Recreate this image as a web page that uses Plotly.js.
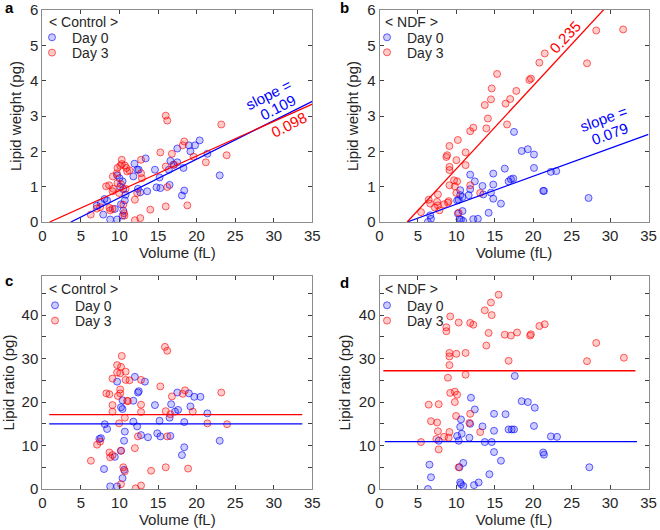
<!DOCTYPE html>
<html>
<head>
<meta charset="utf-8">
<script src="https://cdn.plot.ly/plotly-3.0.1.min.js"></script>
<style>html,body{margin:0;padding:0;background:#fff}#chart{width:660px;height:530px}</style>
</head>
<body>
<div id="chart"></div>
<script>
// ---------- Panel a: Control, lipid weight vs volume ----------
const aDay0X = [7.06,7.6,8.06,8.4,7.9,8.8,9.4,9.7,9.7,10.0,10.1,10.4,10.2,10.4,10.5,10.7,10.8,10.5,11.8,11.95,12.3,12.5,12.4,12.7,13.4,13.6,14.6,14.8,15.2,15.3,16.4,16.6,16.5,17.0,17.5,17.5,18.3,18.1,18.4,19.0,19.2,19.8,20.4,21.4,23.0];
const aDay0Y = [0.46,0.54,0.65,0.61,0.21,0.07,0.37,0.07,1.32,1.24,1.0,1.15,0.5,0.18,0.32,0.61,0.77,0.93,1.29,1.65,1.48,1.48,0.94,0.84,1.8,0.87,1.48,0.98,1.26,0.96,1.48,1.73,1.05,1.62,2.08,1.69,1.53,0.75,0.89,2.17,2.0,2.17,2.31,1.93,1.32];
const aDay3X = [6.28,7.06,7.5,8.27,8.66,8.7,8.8,9.1,9.1,9.2,9.14,9.66,9.74,9.74,9.96,10.1,10.3,10.3,10.2,10.5,10.7,10.9,11.0,11.3,10.8,10.6,10.65,12.0,12.0,12.7,12.8,12.8,12.9,12.3,14.0,15.3,16.0,16.2,16.0,16.0,16.2,16.8,17.1,18.2,18.4,18.8,19.6,21.2,23.2,23.9];
const aDay3Y = [0.21,0.38,0.42,1.01,1.04,0.4,0.33,0.37,0.87,0.94,1.29,1.38,1.53,1.1,0.82,1.59,1.64,1.76,1.07,0.49,1.6,1.53,1.43,1.46,0.94,0.25,0.18,0.63,0.05,0.11,1.76,1.38,1.24,0.82,0.35,1.97,3.01,2.87,0.44,1.57,0.99,1.93,1.62,2.17,2.28,0.47,1.85,1.69,2.76,1.89];

// ---------- Panel b: NDF, lipid weight vs volume ----------
const bDay0X = [6.3,6.6,6.7,10.1,10.3,10.5,10.5,10.8,10.4,10.6,10.9,10.8,10.2,11.6,11.8,11.8,12.4,12.2,12.8,13.4,13.5,14.2,14.5,14.8,14.8,14.8,15.8,16.3,16.8,17.1,17.4,17.5,18.5,19.3,20.1,20.1,21.3,21.4,22.3,23.0,27.2];
const bDay0Y = [0.0,0.19,0.09,0.61,0.63,0.9,0.76,0.71,0.08,0.07,0.03,0.31,0.24,0.76,1.34,0.93,1.15,0.08,0.09,1.02,0.78,0.26,0.83,1.37,1.06,0.66,0.52,1.51,1.15,1.21,1.23,2.55,2.01,2.06,1.91,1.53,0.88,0.88,1.42,1.44,0.68];
const bDay3X = [5.4,6.4,6.6,7.2,7.6,7.5,7.6,7.8,8.4,8.9,9.0,8.7,8.8,9.1,9.1,9.1,9.1,9.7,9.8,10.0,10.1,10.2,10.0,10.3,11.2,11.2,11.8,12.2,11.8,13.1,13.7,13.9,14.1,14.5,14.6,15.3,16.4,16.6,17.0,17.8,19.5,19.7,20.8,21.5,27.0,28.2,31.7];
const bDay3Y = [0.28,0.63,0.52,0.41,0.78,0.57,0.47,0.33,0.5,0.55,0.59,1.84,1.89,2.15,1.56,1.47,1.04,1.18,1.01,1.75,1.15,2.32,0.82,0.26,1.97,1.61,2.57,2.67,1.04,0.82,3.31,2.65,2.93,3.47,3.78,4.19,3.35,2.76,3.48,3.71,4.02,4.06,4.51,4.77,4.49,5.42,5.45];

// ---------- Panel c: Control, lipid ratio vs volume ----------
const cDay0X = [8.1,8.4,7.6,7.4,8.0,8.8,9.7,9.4,9.7,10.2,10.4,10.4,10.2,10.7,10.6,10.6,10.4,12.0,12.4,12.5,11.8,11.8,12.3,12.8,13.3,13.7,14.6,14.9,15.2,15.3,16.5,16.6,16.7,17.2,17.5,17.6,18.1,18.4,18.4,19.0,19.2,19.7,20.5,21.4,23.0];
const cDay0Y = [14.9,13.8,11.7,11.5,4.6,0.6,0.6,7.4,24.7,18.8,20.4,18.4,8.8,13.2,11.1,4.4,2.5,25.8,22.2,22.5,20.3,15.5,14.4,12.4,24.7,11.9,19.3,12.8,15.7,12.1,16.4,12.2,19.5,17.8,22.2,18.2,7.8,9.6,15.4,22.0,19.0,21.2,21.2,17.4,11.1];
const cDay3X = [6.3,7.1,7.5,8.3,8.7,8.7,8.8,9.1,9.1,9.1,9.1,9.7,9.7,10.2,10.3,10.1,10.1,10.1,9.8,9.96,10.2,10.2,10.5,10.7,10.7,10.8,10.8,11.3,11.0,11.1,12.0,12.1,12.4,12.8,12.8,12.8,12.8,14.1,15.3,15.9,16.2,16.0,16.0,16.2,16.6,16.8,18.2,18.5,18.9,19.5,21.4,23.2,23.95];
const cDay3Y = [6.5,10.2,10.9,22.0,21.8,8.4,7.3,7.8,25.4,19.3,17.8,28.5,26.8,28.1,30.6,26.6,22.9,22.0,21.4,15.1,8.8,1.1,5.0,4.1,16.4,27.0,25.1,25.0,20.3,20.2,9.4,0.15,12.1,25.1,19.4,17.7,0.8,4.2,23.6,32.7,31.8,17.9,5.0,12.1,17.2,21.3,21.9,22.7,4.7,17.8,15.1,22.2,14.9];

// ---------- Panel d: NDF, lipid ratio vs volume ----------
const dDay0X = [6.3,6.5,6.7,7.7,10.1,10.3,10.4,10.5,10.6,10.7,10.5,10.6,10.9,10.9,11.7,11.8,11.9,12.4,12.3,12.9,13.4,13.7,14.3,14.6,14.9,14.9,14.9,15.8,16.4,16.8,17.2,17.5,17.6,18.5,19.3,20.2,20.1,21.3,21.4,22.3,23.1,27.3];
const dDay0Y = [0.0,5.6,2.7,11.1,12.2,11.1,5.0,14.3,16.0,12.7,1.5,1.1,0.7,6.0,11.8,15.0,21.0,18.3,0.9,1.5,14.4,10.8,3.4,10.8,17.3,13.4,8.5,6.5,17.2,13.7,13.7,13.7,26.0,20.2,20.0,18.7,14.5,8.4,7.9,12.1,12.0,5.0];
const dDay3X = [5.4,6.4,6.7,7.5,7.6,7.7,7.4,7.7,8.4,8.7,8.7,8.9,9.1,9.1,9.1,9.2,9.1,9.0,9.2,9.8,9.8,9.96,10.1,10.0,10.3,10.3,11.2,11.2,11.8,11.7,11.8,12.2,13.1,13.7,13.9,14.2,14.5,14.6,15.5,16.3,16.8,17.1,17.9,19.6,19.7,20.8,21.5,27.0,28.2,31.8];
const dDay3Y = [10.8,19.4,15.6,15.3,13.3,19.5,11.5,9.1,12.0,37.2,36.3,25.6,30.5,31.3,28.5,39.7,13.1,11.8,22.1,22.4,20.0,16.8,21.7,31.1,38.3,5.0,31.3,26.3,17.3,15.2,38.2,37.8,13.1,41.1,33.0,35.9,42.9,40.0,44.7,35.5,29.5,35.3,36.0,35.3,35.6,37.5,37.9,29.4,33.6,30.2];

// ---------- Fit lines (slope, x-intercept, x-extent) ----------
const aFitSlope = [0.109, 0.098];     // Day 0, Day 3
const aFitX0 = [3.7, 0.95];
const aFitXEnd = [35, 35];
const bFitSlope = [0.079, 0.235];
const bFitX0 = [3.6, 3.6];
const bFitXEnd = [35, 35];
// ---------- Mean lines (level, x-extent) ----------
const cMean = [15.0, 17.1];
const cMeanXStart = [0.9, 0.9];
const cMeanXEnd = [33.7, 33.7];
const dMean = [10.9, 27.2];
const dMeanXStart = [0.7, 0.5];
const dMeanXEnd = [33.5, 33.3];

const panelLetters = ['a','b','c','d'];
const groupNames = ['&lt; Control &gt;','&lt; NDF &gt;','&lt; Control &gt;','&lt; NDF &gt;'];
const seriesNames = ['Day 0','Day 3'];
const slopeLabelsA = ['slope =','0.109','0.098'];
const slopeLabelsB = ['0.235','slope =','0.079'];

const BLUE = '#0000ff', RED = '#ff0000';
const FONT = 'Liberation Sans, Arial, Helvetica, sans-serif';
const TXT = '#262626';

function mk(x, y, color, fill, xa, ya, legend, name) {
  return {type:'scatter', mode:'markers', x:x, y:y, xaxis:xa, yaxis:ya, name:name,
    legend:legend, showlegend:true,
    marker:{symbol:'circle', size:7, color:fill, line:{color:color, width:1}},
    hoverinfo:'x+y'};
}
function ln(x, y, color, xa, ya) {
  return {type:'scatter', mode:'lines', x:x, y:y, xaxis:xa, yaxis:ya, showlegend:false,
    line:{color:color, width:1.3}, hoverinfo:'skip'};
}
function fitLine(slope, x0, xEnd) {
  return {x:[x0, xEnd], y:[0, slope*(xEnd - x0)]};
}

const bFill = 'rgba(0,0,255,0.2)', bEdge = 'rgba(0,0,255,0.6)';
const rFill = 'rgba(255,0,0,0.2)', rEdge = 'rgba(255,0,0,0.6)';

const traces = [];
// a
traces.push(mk(aDay0X,aDay0Y,bEdge,bFill,'x','y','legend',seriesNames[0]));
traces.push(mk(aDay3X,aDay3Y,rEdge,rFill,'x','y','legend2',seriesNames[1]));
[0,1].forEach(i=>{const f=fitLine(aFitSlope[i],aFitX0[i],aFitXEnd[i]); traces.push(ln(f.x,f.y,i?RED:BLUE,'x','y'));});
// b
traces.push(mk(bDay0X,bDay0Y,bEdge,bFill,'x2','y2','legend3',seriesNames[0]));
traces.push(mk(bDay3X,bDay3Y,rEdge,rFill,'x2','y2','legend4',seriesNames[1]));
[0,1].forEach(i=>{const f=fitLine(bFitSlope[i],bFitX0[i],bFitXEnd[i]); traces.push(ln(f.x,f.y,i?RED:BLUE,'x2','y2'));});
// c
traces.push(mk(cDay0X,cDay0Y,bEdge,bFill,'x3','y3','legend5',seriesNames[0]));
traces.push(mk(cDay3X,cDay3Y,rEdge,rFill,'x3','y3','legend6',seriesNames[1]));
[0,1].forEach(i=>traces.push(ln([cMeanXStart[i],cMeanXEnd[i]],[cMean[i],cMean[i]],i?RED:BLUE,'x3','y3')));
// d
traces.push(mk(dDay0X,dDay0Y,bEdge,bFill,'x4','y4','legend7',seriesNames[0]));
traces.push(mk(dDay3X,dDay3Y,rEdge,rFill,'x4','y4','legend8',seriesNames[1]));
[0,1].forEach(i=>traces.push(ln([dMeanXStart[i],dMeanXEnd[i]],[dMean[i],dMean[i]],i?RED:BLUE,'x4','y4')));

const W = 660, H = 530;
const px = v => v / W, py = v => 1 - v / H;

function xax(dom, anchor) {
  return {domain:dom, anchor:anchor, range:[0,35], tick0:0, dtick:5, ticks:'inside', ticklen:4,
    tickcolor:'#404040', showline:true, linecolor:'#8c8c8c', linewidth:1, mirror:'ticks',
    showgrid:false, zeroline:false, automargin:false,
    tickfont:{family:FONT, size:15, color:TXT},
    title:{text:'Volume (fL)', font:{family:FONT, size:15, color:TXT}, standoff:0}};
}
function yax(dom, anchor, rng, dt, minor, title) {
  const o = {domain:dom, anchor:anchor, range:rng, tick0:0, dtick:dt, ticks:'inside', ticklen:4,
    tickcolor:'#404040', showline:true, linecolor:'#8c8c8c', linewidth:1, mirror:'ticks',
    showgrid:false, zeroline:false, automargin:false,
    tickfont:{family:FONT, size:15, color:TXT},
    title:{text:title, font:{family:FONT, size:15, color:TXT}, standoff:4}};
  if (minor) o.minor = {dtick:minor, ticks:'inside', ticklen:4, tickcolor:'#404040', showgrid:false};
  return o;
}
const colA = [px(42.3), px(312.3)], colB = [px(379.5), px(648.5)];
const rowTop = [py(222), py(10)], rowBot = [py(489), py(276)];

// one legend per entry so each entry sits where the reference puts it
// (xp = left of legend box, yp = vertical centre of the entry)
function leg(xp, yp) {
  return {x:px(xp), y:py(yp), xanchor:'left', yanchor:'middle', bgcolor:'rgba(0,0,0,0)',
    borderwidth:0, font:{family:FONT, size:14, color:TXT}, itemclick:false};
}

const ann = [];
function paperText(t, x, y, opts) {
  ann.push(Object.assign({text:t, xref:'paper', yref:'paper', x:px(x), y:py(y), showarrow:false,
    xanchor:'left', yanchor:'middle', font:{family:FONT, size:14, color:TXT}}, opts||{}));
}
// panel letters
paperText('<b>'+panelLetters[0]+'</b>', 3, 8, {font:{family:FONT, size:15, color:'#000'}});
paperText('<b>'+panelLetters[1]+'</b>', 338, 8, {font:{family:FONT, size:15, color:'#000'}});
paperText('<b>'+panelLetters[2]+'</b>', 3, 280, {font:{family:FONT, size:15, color:'#000'}});
paperText('<b>'+panelLetters[3]+'</b>', 338, 282, {font:{family:FONT, size:15, color:'#000'}});
// group titles
paperText(groupNames[0], 47, 22);
paperText(groupNames[1], 383, 22);
paperText(groupNames[2], 47, 289);
paperText(groupNames[3], 383, 289);
// slope labels
function dataText(t, x, y, xa, ya, color, angle) {
  ann.push({text:t, xref:xa, yref:ya, x:x, y:y, showarrow:false, textangle:angle,
    font:{family:FONT, size:15, color:color}});
}
dataText(slopeLabelsA[0], 29.3, 3.62, 'x', 'y', BLUE, -27);
dataText(slopeLabelsA[1], 30.5, 3.25, 'x', 'y', BLUE, -27);
dataText(slopeLabelsA[2], 32.0, 2.77, 'x', 'y', RED, -27);
dataText(slopeLabelsB[0], 24.2, 5.25, 'x2', 'y2', RED, -47);
dataText(slopeLabelsB[1], 29.2, 2.94, 'x2', 'y2', BLUE, -20);
dataText(slopeLabelsB[2], 30.0, 2.51, 'x2', 'y2', BLUE, -20);

const legOffset = 20; // marker centre sits ~20 px right of the legend box's left edge
const layout = {
  width:W, height:H, margin:{l:0, r:0, t:0, b:0},
  paper_bgcolor:'#fff', plot_bgcolor:'#fff',
  font:{family:FONT, color:TXT},
  xaxis: xax(colA, 'y'),  yaxis: yax(rowTop, 'x', [0,6], 1, null, 'Lipid weight (pg)'),
  xaxis2:xax(colB, 'y2'), yaxis2:yax(rowTop, 'x2', [0,6], 1, null, 'Lipid weight (pg)'),
  xaxis3:xax(colA, 'y3'), yaxis3:yax(rowBot, 'x3', [0,49], 10, 5, 'Lipid ratio (pg)'),
  xaxis4:xax(colB, 'y4'), yaxis4:yax(rowBot, 'x4', [0,49], 10, 5, 'Lipid ratio (pg)'),
  legend:  leg(52-legOffset, 37.7), legend2: leg(52-legOffset, 53),
  legend3: leg(387-legOffset, 37.7), legend4: leg(387-legOffset, 52.7),
  legend5: leg(55-legOffset, 305.7), legend6: leg(55-legOffset, 321),
  legend7: leg(387-legOffset, 305.7), legend8: leg(387-legOffset, 321),
  annotations: ann,
  hovermode:'closest'
};

Plotly.newPlot('chart', traces, layout, {displayModeBar:false, staticPlot:true});
</script>
</body>
</html>
